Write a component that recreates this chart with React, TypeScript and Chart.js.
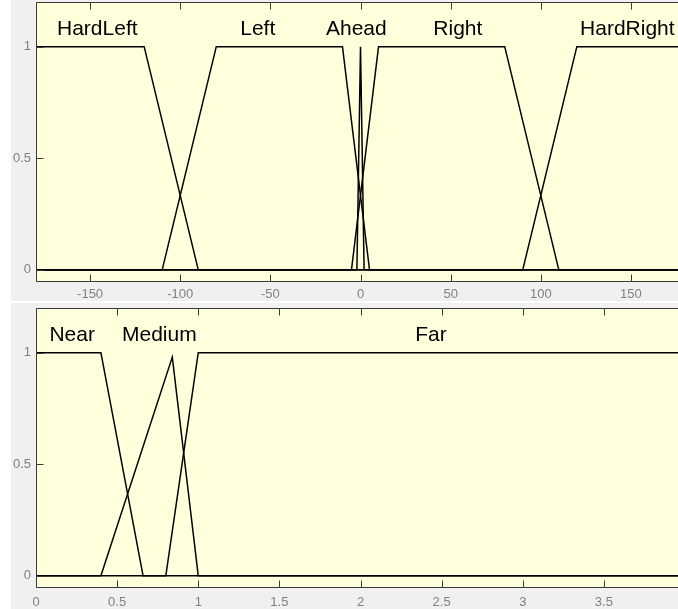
import React, { useEffect, useRef } from 'react';
import { Chart, registerables } from 'chart.js';

Chart.register(...registerables);

// ---------- Top panel: steering angle membership functions ----------
const angleMin = -180;
const angleMax = 180;
const angleTicks = [-150, -100, -50, 0, 50, 100, 150];
const angleNames = ['HardLeft', 'Left', 'Ahead', 'Right', 'HardRight'];
const angleLabelPos = [-146, -57, -2.3, 54, 148];

const hardLeftX = [-180, -120, -90, 180];
const hardLeftY = [1, 1, 0, 0];
const leftX = [-180, -110, -80, -10, 5, 180];
const leftY = [0, 0, 1, 1, 0, 0];
const aheadX = [-180, -2, 0, 2, 180];
const aheadY = [0, 0, 1, 0, 0];
const rightX = [-180, -5, 10, 80, 110, 180];
const rightY = [0, 0, 1, 1, 0, 0];
const hardRightX = [-180, 90, 120, 180];
const hardRightY = [0, 0, 1, 1];

// ---------- Bottom panel: distance membership functions ----------
const distMin = 0;
const distMax = 4;
const distTicks = [0, 0.5, 1, 1.5, 2, 2.5, 3, 3.5];
const distNames = ['Near', 'Medium', 'Far'];
const distLabelPos = [0.223, 0.76, 2.434];

const nearX = [0, 0.4, 0.66, 4];
const nearY = [1, 1, 0, 0];
const mediumX = [0, 0.4, 0.84, 1, 4];
const mediumY = [0, 0, 0.98, 0, 0];
const farX = [0, 0.8, 1, 4];
const farY = [0, 0, 1, 1];

// ---------- Shared ----------
const yMin = -0.05;
const yMax = 1.2;
const yTicks = [0, 0.5, 1];
const labelY = 1.05;

const FONT = '"Liberation Sans", Arial, Helvetica, sans-serif';
const PLOT_BG = '#ffffdc';
const PANEL_BG = '#f0f0f0';

function toPoints(xs: number[], ys: number[]) {
  return xs.map((x, i) => ({ x, y: ys[i] }));
}

function makeDecor(names: string[], positions: number[]) {
  return {
    id: 'decor',
    beforeDraw(chart: any) {
      const { ctx, chartArea: a } = chart;
      ctx.save();
      ctx.fillStyle = PLOT_BG;
      ctx.fillRect(a.left, a.top, a.right - a.left, a.bottom - a.top);
      ctx.restore();
    },
    afterDraw(chart: any) {
      const { ctx, chartArea: a } = chart;
      const xs = chart.scales.x;
      const ys = chart.scales.y;
      ctx.save();
      ctx.strokeStyle = '#3a3a3a';
      ctx.lineWidth = 1;
      const L = Math.round(a.left) + 0.5;
      const T = Math.round(a.top) + 0.5;
      const R = Math.round(a.right) + 0.5;
      const B = Math.round(a.bottom) + 0.5;
      ctx.beginPath();
      ctx.rect(L, T, R - L, B - T);
      xs.ticks.forEach((_t: any, i: number) => {
        const px = Math.round(xs.getPixelForTick(i)) + 0.5;
        ctx.moveTo(px, B);
        ctx.lineTo(px, B - 7);
        ctx.moveTo(px, T);
        ctx.lineTo(px, T + 7);
      });
      ys.ticks.forEach((_t: any, i: number) => {
        const py = Math.round(ys.getPixelForTick(i)) + 0.5;
        ctx.moveTo(L, py);
        ctx.lineTo(L + 7, py);
        ctx.moveTo(R, py);
        ctx.lineTo(R - 7, py);
      });
      ctx.stroke();

      ctx.fillStyle = '#000';
      ctx.font = `21px ${FONT}`;
      ctx.textAlign = 'center';
      ctx.textBaseline = 'alphabetic';
      names.forEach((n, i) => {
        ctx.fillText(n, xs.getPixelForValue(positions[i]), ys.getPixelForValue(labelY));
      });
      ctx.restore();
    },
  };
}

function buildConfig(
  series: { x: number[]; y: number[] }[],
  min: number,
  max: number,
  ticks: number[],
  names: string[],
  positions: number[],
  padTop: number,
  axisHeight: number,
  labelPad: number
): any {
  return {
    type: 'line',
    data: {
      datasets: series.map((s) => ({
        data: toPoints(s.x, s.y),
        borderColor: '#000',
        borderWidth: 1.5,
        pointRadius: 0,
        fill: false,
        tension: 0,
      })),
    },
    options: {
      animation: false,
      responsive: false,
      devicePixelRatio: 1,
      layout: { padding: { top: padTop, right: 16, left: 0, bottom: 0 } },
      plugins: { legend: { display: false }, tooltip: { enabled: false } },
      scales: {
        x: {
          type: 'linear',
          min,
          max,
          afterBuildTicks: (s: any) => {
            s.ticks = ticks.map((v) => ({ value: v }));
          },
          afterFit: (s: any) => {
            s.height = axisHeight;
            s.paddingLeft = 0;
            s.paddingRight = 0;
            s.paddingTop = 0;
            s.paddingBottom = 0;
          },
          grid: { display: false, drawTicks: false },
          border: { display: false },
          ticks: {
            color: '#808080',
            font: { family: FONT, size: 13 },
            padding: labelPad,
            maxRotation: 0,
            autoSkip: false,
            callback: (v: any) => String(v),
          },
        },
        y: {
          type: 'linear',
          min: yMin,
          max: yMax,
          afterBuildTicks: (s: any) => {
            s.ticks = yTicks.map((v) => ({ value: v }));
          },
          afterFit: (s: any) => {
            s.width = 25;
            s.paddingLeft = 0;
            s.paddingRight = 0;
            s.paddingTop = 0;
            s.paddingBottom = 0;
          },
          grid: { display: false, drawTicks: false },
          border: { display: false },
          ticks: {
            color: '#808080',
            font: { family: FONT, size: 13 },
            padding: 5,
            callback: (v: any) => String(v),
          },
        },
      },
    },
    plugins: [makeDecor(names, positions)],
  };
}

export default function App() {
  const topRef = useRef<HTMLCanvasElement>(null);
  const botRef = useRef<HTMLCanvasElement>(null);

  useEffect(() => {
    const c1 = new Chart(
      topRef.current as HTMLCanvasElement,
      buildConfig(
        [
          { x: hardLeftX, y: hardLeftY },
          { x: leftX, y: leftY },
          { x: aheadX, y: aheadY },
          { x: rightX, y: rightY },
          { x: hardRightX, y: hardRightY },
        ],
        angleMin,
        angleMax,
        angleTicks,
        angleNames,
        angleLabelPos,
        2,
        20,
        6
      )
    );
    const c2 = new Chart(
      botRef.current as HTMLCanvasElement,
      buildConfig(
        [
          { x: nearX, y: nearY },
          { x: mediumX, y: mediumY },
          { x: farX, y: farY },
        ],
        distMin,
        distMax,
        distTicks,
        distNames,
        distLabelPos,
        5,
        22,
        8
      )
    );
    return () => {
      c1.destroy();
      c2.destroy();
    };
  }, []);

  return (
    <div
      style={{
        position: 'fixed',
        left: 0,
        top: 0,
        width: 678,
        height: 609,
        overflow: 'hidden',
        background: '#ffffff',
      }}
    >
      <div style={{ position: 'absolute', left: 11, top: 0, width: 690, height: 301, background: PANEL_BG }}>
        <canvas ref={topRef} width={690} height={301} style={{ display: 'block' }} />
      </div>
      <div style={{ position: 'absolute', left: 11, top: 303, width: 690, height: 306, background: PANEL_BG }}>
        <canvas ref={botRef} width={690} height={306} style={{ display: 'block' }} />
      </div>
    </div>
  );
}
